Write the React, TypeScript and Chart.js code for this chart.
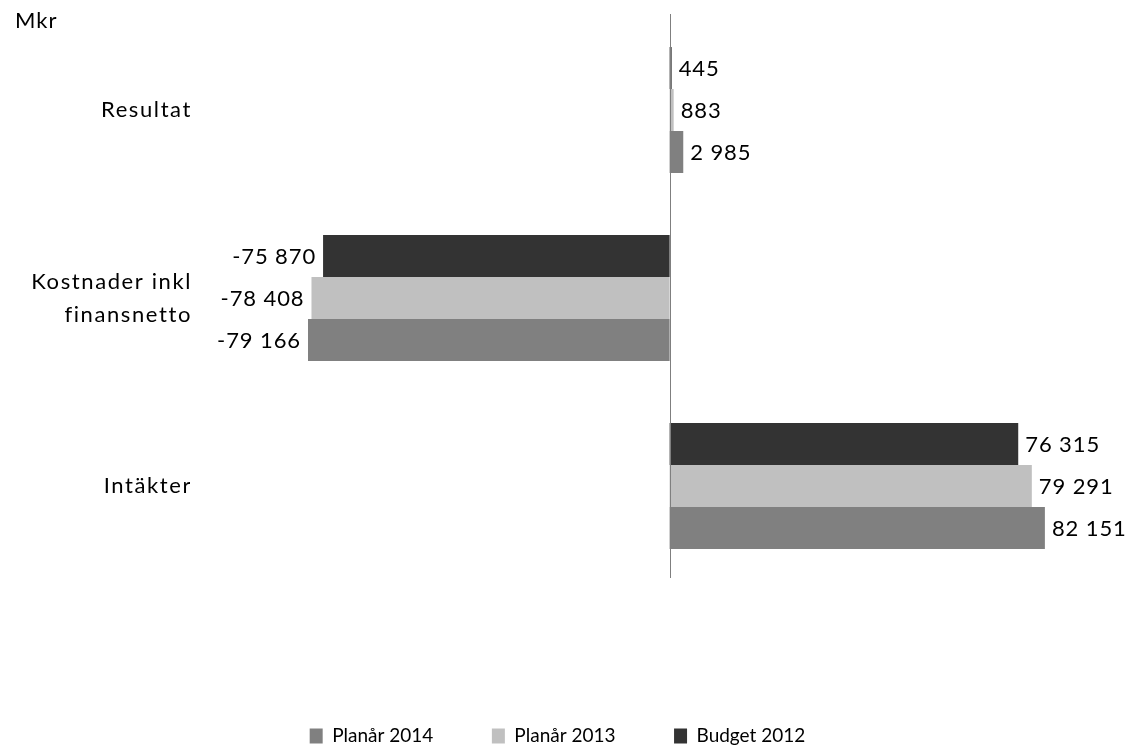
import React, { useEffect, useRef } from "react";
import { Chart, registerables } from "chart.js";

Chart.register(...registerables);

const categories: (string | string[])[] = ["Resultat", ["Kostnader inkl", "finansnetto"], "Intäkter"];
const budget2012 = [445, -75870, 76315];
const plan2013 = [883, -78408, 79291];
const plan2014 = [2985, -79166, 82151];
const seriesNames = ["Budget 2012", "Planår 2013", "Planår 2014"];
const seriesColors = ["#333333", "#c0c0c0", "#808080"];
const unitLabel = "Mkr";

const FONT = "Lato, 'Liberation Sans', sans-serif";

function fmt(v: number): string {
  const s = Math.abs(v).toString().replace(/\B(?=(\d{3})+(?!\d))/g, " ");
  return (v < 0 ? "-" : "") + s;
}

const valueLabels = {
  id: "valueLabels",
  afterLayout(chart: any) {
    const y = chart.scales.y;
    if (y && !y._spaced) {
      const orig = y.drawLabels.bind(y);
      y.drawLabels = (area: any) => {
        const c = y.ctx as any;
        c.save();
        c.letterSpacing = "1.6px";
        orig(area);
        c.restore();
      };
      y._spaced = true;
    }
  },
  afterDatasetsDraw(chart: any) {
    const ctx = chart.ctx as any;
    const area = chart.chartArea;
    const x0 = Math.round(chart.scales.x.getPixelForValue(0)) + 0.5;
    ctx.save();
    ctx.strokeStyle = "#7f7f7f";
    ctx.lineWidth = 1;
    ctx.beginPath();
    ctx.moveTo(x0, area.top - 2);
    ctx.lineTo(x0, area.bottom - 2);
    ctx.stroke();

    ctx.font = `22px ${FONT}`;
    ctx.fillStyle = "#000";
    ctx.textBaseline = "middle";
    ctx.letterSpacing = "0.9px";
    chart.data.datasets.forEach((ds: any, di: number) => {
      const meta = chart.getDatasetMeta(di);
      meta.data.forEach((bar: any, i: number) => {
        const v = ds.data[i] as number;
        if (v >= 0) {
          ctx.textAlign = "left";
          ctx.fillText(fmt(v), bar.x + 7, bar.y + 1);
        } else {
          ctx.textAlign = "right";
          ctx.fillText(fmt(v), bar.x - 7, bar.y + 1);
        }
      });
    });
    ctx.textAlign = "left";
    ctx.textBaseline = "alphabetic";
    ctx.letterSpacing = "1px";
    ctx.fillText(unitLabel, 15, 28);
    ctx.restore();
  },
};

export default function App() {
  const ref = useRef<HTMLCanvasElement>(null);
  useEffect(() => {
    if (!ref.current) return;
    const chart = new Chart(ref.current, {
      type: "bar",
      data: {
        labels: categories as any,
        datasets: [
          { label: seriesNames[0], data: budget2012, backgroundColor: seriesColors[0] },
          { label: seriesNames[1], data: plan2013, backgroundColor: seriesColors[1] },
          { label: seriesNames[2], data: plan2014, backgroundColor: seriesColors[2] },
        ],
      },
      options: {
        indexAxis: "y",
        animation: false,
        responsive: true,
        maintainAspectRatio: false,
        layout: { padding: { top: 16, right: 15, left: 0, bottom: 0 } },
        datasets: { bar: { categoryPercentage: 0.67, barPercentage: 1, borderWidth: 0 } },
        scales: {
          x: {
            min: -105000,
            max: 97500,
            ticks: { display: false },
            border: { display: false },
            grid: { display: false, drawTicks: false },
            afterFit: (s: any) => {
              s.height = 88;
            },
          },
          y: {
            ticks: {
              crossAlign: "near",
              padding: -2,
              color: "#000",
              font: { family: FONT, size: 22, lineHeight: 1.5 },
            },
            grid: { display: false, drawTicks: false },
            border: { display: false },
            afterFit: (s: any) => {
              s.width = 190;
            },
          },
        },
        plugins: {
          legend: {
            position: "bottom",
            reverse: true,
            maxHeight: 84,
            labels: {
              boxWidth: 13,
              boxHeight: 15,
              padding: 58.5,
              color: "#000",
              font: { family: FONT, size: 19 },
            },
          },
          tooltip: { enabled: false },
        },
      },
      plugins: [valueLabels],
    });
    return () => chart.destroy();
  }, []);
  return (
    <div style={{ position: "absolute", left: 0, top: 0, width: 1130, height: 752, background: "#fff" }}>
      <canvas ref={ref} />
    </div>
  );
}
